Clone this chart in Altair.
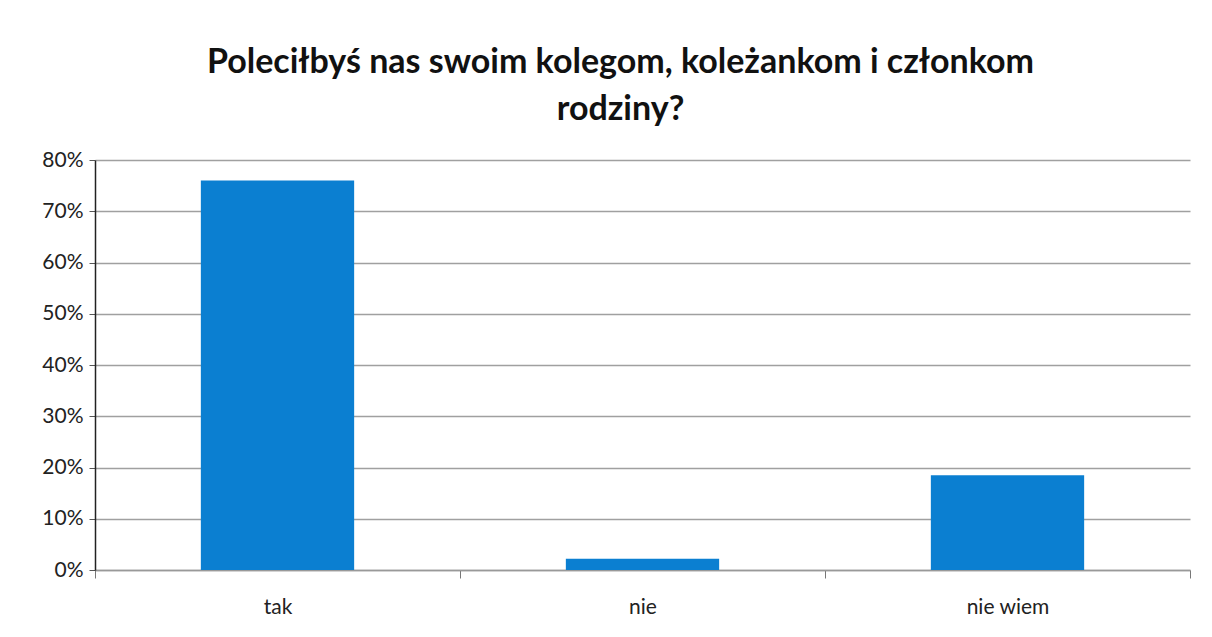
import altair as alt
import pandas as pd

categories = ["tak", "nie", "nie wiem"]
values = [0.76, 0.022, 0.185]
title_lines = ["Poleciłbyś nas swoim kolegom, koleżankom i członkom", "rodziny?"]

df = pd.DataFrame({"odpowiedz": categories, "udzial": values})

font = "Lato"

chart = alt.Chart(df).mark_bar(color="#0b7fd1", width=alt.RelativeBandSize(0.42)).encode(
    x=alt.X("odpowiedz:N", sort=categories, title=None,
            scale=alt.Scale(paddingInner=0, paddingOuter=0),
            axis=alt.Axis(labelAngle=0, labelFontSize=21, labelColor="#222",
                          labelFont=font, labelPadding=18, tickBand="extent",
                          tickSize=8, tickColor="#777", domainColor="#999",
                          domainWidth=1.5, grid=False)),
    y=alt.Y("udzial:Q", title=None,
            scale=alt.Scale(domain=[0, 0.8]),
            axis=alt.Axis(format=".0%", values=[0, .1, .2, .3, .4, .5, .6, .7, .8],
                          labelFontSize=21, labelColor="#222", labelFont=font,
                          labelPadding=6, tickSize=6, tickColor="#555",
                          domainColor="#222", domainWidth=1.5,
                          gridColor="#a0a0a0", gridWidth=1.5)),
).properties(
    width=1095,
    height=410,
    title=alt.TitleParams(text=title_lines, font=font, fontSize=34, fontWeight="bold",
                          color="#111", anchor="middle", dx=-22, offset=22, lineHeight=47),
    autosize=alt.AutoSizeParams(type="none"),
    padding={"left": 87, "top": 152, "right": 10, "bottom": 50},
).configure_view(stroke=None)

chart.save("out.html", embed_options={"renderer": "svg", "actions": False})
